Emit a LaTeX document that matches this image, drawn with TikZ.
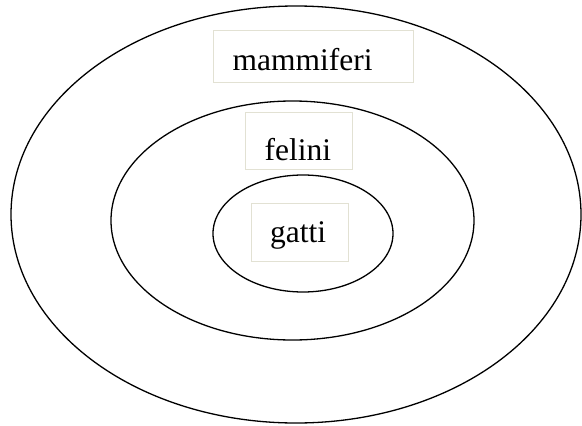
\documentclass[tikz,border=0pt]{standalone}
\usepackage{fontspec}
\setmainfont{Liberation Serif}
\usetikzlibrary{shapes.geometric}
\definecolor{boxline}{HTML}{E2E1D3}
\tikzset{
  ring/.style={draw=black, line width=1.3pt, ellipse, inner sep=0pt},
  labelbox/.style={draw=boxline, line width=0.9pt, rectangle, inner sep=0pt},
  labeltext/.style={anchor=base west, inner sep=0pt, font=\fontsize{31.5}{36}\selectfont}
}
\begin{document}
\begin{tikzpicture}[x=1pt,y=-1pt]
  \useasboundingbox (0,0) rectangle (582,426);
  % nested sets
  \node[ring, minimum width=570pt, minimum height=417pt] (outer) at (296,214.5) {};
  \node[ring, minimum width=363pt, minimum height=239pt] (middle) at (292.5,220.5) {};
  \node[ring, minimum width=180pt, minimum height=117pt] (inner) at (303,233.5) {};
  % label frames
  \node[labelbox, minimum width=200pt, minimum height=52pt] (bm) at (313,56) {};
  \node[labelbox, minimum width=107pt, minimum height=57pt] (bf) at (298.5,140.5) {};
  \node[labelbox, minimum width=97pt, minimum height=58pt] (bg) at (299.5,232) {};
  % labels
  \node[labeltext] (tm) at (232.5,70) {mammiferi};
  \node[labeltext] (tf) at (264.5,160) {felini};
  \node[labeltext] (tg) at (270,242.5) {gatti};
\end{tikzpicture}
\end{document}
